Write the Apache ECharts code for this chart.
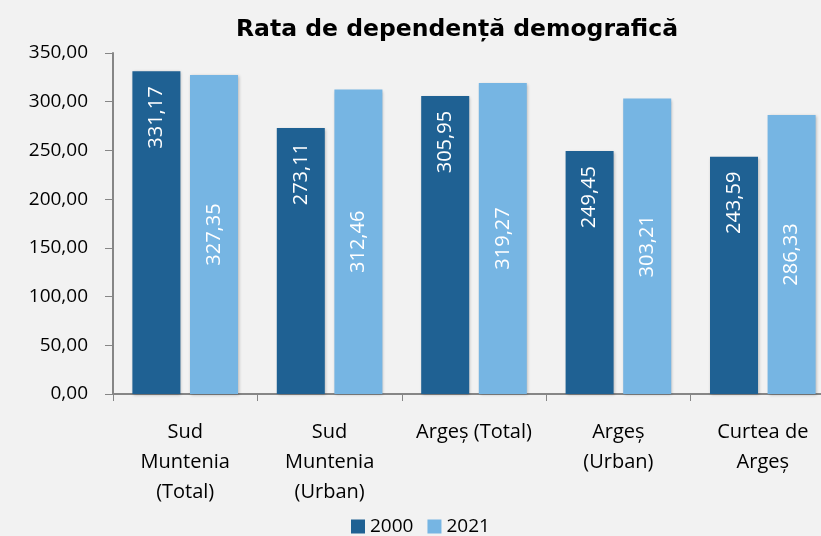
<!DOCTYPE html>
<html>
<head>
<meta charset="utf-8">
<script src="https://cdn.jsdelivr.net/npm/echarts@6/dist/echarts.min.js"></script>
<style>
html, body { margin: 0; padding: 0; background: #f2f2f2; }
#chart { width: 821px; height: 536px; }
</style>
</head>
<body>
<div id="chart"></div>
<script>
// categorii si valori
var categories = ['Sud\nMuntenia\n(Total)', 'Sud\nMuntenia\n(Urban)', 'Argeș (Total)', 'Argeș\n(Urban)', 'Curtea de\nArgeș']
var years = ['2000', '2021']
var values2000 = [331.17, 273.11, 305.95, 249.45, 243.59]
var values2021 = [327.35, 312.46, 319.27, 303.21, 286.33]
var yTicks = [0, 50, 100, 150, 200, 250, 300, 350]

var font = 'Open Sans'
function fmt(v) { // format cu virgula
    return v.toFixed(2).replace('.', ',')
}

var chart = echarts.init(document.getElementById('chart'))
var options = {
    backgroundColor: '#f2f2f2',
    textStyle: { fontFamily: font },
    title: {
        text: 'Rata de dependență demografică',
        left: 231,
        top: 13,
        textStyle: { fontFamily: 'DejaVu Sans', fontSize: 23.5, fontWeight: 'bold', color: '#000' }
    },
    legend: {
        data: years,
        top: 512,
        left: 346,
        itemWidth: 14,
        itemHeight: 14,
        itemGap: 14,
        icon: 'rect',
        textStyle: { fontFamily: font, fontSize: 19, color: '#000' }
    },
    grid: { left: 113, right: -14, top: 53, bottom: 142, containLabel: false, outerBoundsMode: 'none' },
    xAxis: {
        type: 'category',
        data: categories,
        axisLine: { lineStyle: { color: '#868686', width: 2 } },
        axisTick: { show: true, length: 7, lineStyle: { color: '#868686', width: 1 } },
        axisLabel: { fontFamily: font, fontSize: 20, color: '#000', lineHeight: 30, margin: 23, interval: 0 }
    },
    yAxis: {
        type: 'value',
        min: yTicks[0],
        max: yTicks[yTicks.length - 1],
        interval: 50,
        axisLine: { show: true, lineStyle: { color: '#868686', width: 2 } },
        axisTick: { show: true, length: 8, lineStyle: { color: '#868686' } },
        splitLine: { show: false },
        axisLabel: { fontFamily: font, fontSize: 19, color: '#000', margin: 25, formatter: fmt }
    },
    series: [{
        name: years[0],
        type: 'bar',
        data: values2000,
        barWidth: 48,
        barGap: '20%',
        itemStyle: { color: '#1f6193', shadowBlur: 3, shadowColor: 'rgba(0,0,0,0.25)', shadowOffsetX: 1, shadowOffsetY: 1 },
        label: {
            show: true, position: 'insideTop', rotate: 90, distance: 15,
            align: 'right', verticalAlign: 'middle',
            fontFamily: font, fontSize: 20, color: '#fff', formatter: function(p) { return fmt(p.value) }
        }
    }, {
        name: years[1],
        type: 'bar',
        data: values2021,
        barWidth: 48,
        itemStyle: { color: '#76b5e3', shadowBlur: 3, shadowColor: 'rgba(0,0,0,0.25)', shadowOffsetX: 1, shadowOffsetY: 1 },
        label: {
            show: true, position: 'inside', rotate: 90,
            align: 'center', verticalAlign: 'middle',
            fontFamily: font, fontSize: 20, color: '#fff', formatter: function(p) { return fmt(p.value) }
        }
    }]
}
chart.setOption(options)
</script>
</body>
</html>
